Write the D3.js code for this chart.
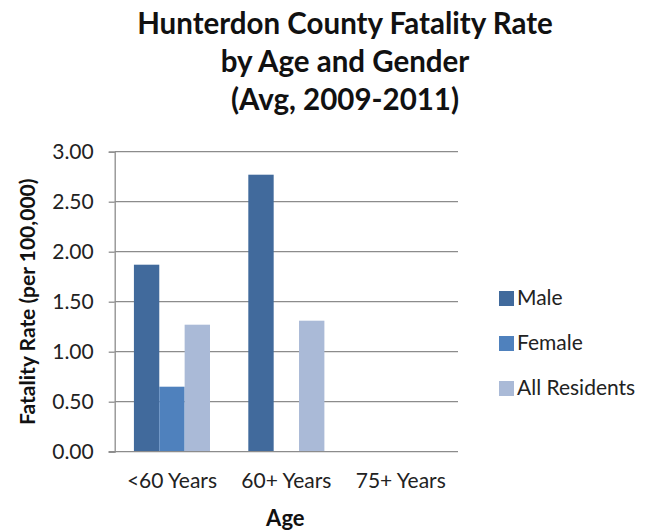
<!DOCTYPE html>
<html>
<head>
<meta charset="utf-8">
<script src="https://cdn.jsdelivr.net/npm/d3@7"></script>
<style>
  body { margin: 0; background: #fff; }
  text { font-family: Lato, "Open Sans", sans-serif; }
</style>
</head>
<body>
<div id="figure"></div>
<script>
const categories = ["<60 Years", "60+ Years", "75+ Years"];
const seriesNames = ["Male", "Female", "All Residents"];
const male = [1.87, 2.77, null];
const female = [0.65, null, null];
const allResidents = [1.27, 1.31, null];
const yTicks = [0, 0.5, 1, 1.5, 2, 2.5, 3];
const titleLines = ["Hunterdon County Fatality Rate", "by Age and Gender", "(Avg, 2009-2011)"];
const colors = ["#416a9c", "#4f81bd", "#aabad7"];

document.addEventListener("DOMContentLoaded", ()=>{
  const W = 651, H = 531;
  const margin = { top: 151.7, left: 114.7, right: 193, bottom: 79.3 };
  const width = W - margin.left - margin.right,
        height = H - margin.top - margin.bottom;

  const svg = d3.select("#figure").append("svg")
                .attr("width", W)
                .attr("height", H);

  // title
  svg.append("g").selectAll("text")
     .data(titleLines).join("text")
     .attr("x", 345)
     .attr("y", (d, i) => 34 + i * 38)
     .attr("text-anchor", "middle")
     .attr("font-weight", "bold")
     .attr("font-size", 29.5)
     .attr("fill", "#111")
     .text(d => d);

  const g = svg.append("g")
               .attr("transform", "translate(" + margin.left + "," + margin.top + ")");

  const x0 = d3.scaleBand().domain(categories).range([0, width]).paddingInner(0.335).paddingOuter(0.168);
  const x1 = d3.scaleBand().domain(seriesNames).range([0, x0.bandwidth()]);
  const y = d3.scaleLinear().domain([0, 3]).range([height, 0]);

  // gridlines
  g.append("g").selectAll("line")
   .data(yTicks.filter(d => d > 0)).join("line")
   .attr("x1", 0).attr("x2", width)
   .attr("y1", d => y(d)).attr("y2", d => y(d))
   .attr("stroke", "#8c8c8c").attr("stroke-width", 1.3);

  const rows = categories.map((c, i) => ({ cat: c, vals: [male[i], female[i], allResidents[i]] }));
  g.append("g").selectAll("g")
   .data(rows).join("g")
   .attr("transform", d => "translate(" + x0(d.cat) + ",0)")
   .selectAll("rect")
   .data(d => d.vals.map((v, j) => ({ name: seriesNames[j], v: v, j: j })).filter(d => d.v != null))
   .join("rect")
   .attr("x", d => x1(d.name))
   .attr("width", x1.bandwidth())
   .attr("y", d => y(d.v))
   .attr("height", d => height - y(d.v))
   .attr("fill", d => colors[d.j]);

  // y axis
  const yAxis = g.append("g")
     .call(d3.axisLeft(y).tickValues(yTicks).tickFormat(d3.format(".2f")).tickSize(6).tickPadding(15));
  yAxis.select(".domain").attr("stroke", "#8c8c8c").attr("stroke-width", 1.3);
  yAxis.selectAll(".tick line").attr("stroke", "#8c8c8c").attr("stroke-width", 1.3);
  yAxis.selectAll(".tick text").attr("font-size", 21).attr("fill", "#222")
       .style("font-family", "Lato, sans-serif");

  // x axis
  const xAxis = g.append("g")
     .attr("transform", "translate(0," + height + ")")
     .call(d3.axisBottom(x0).tickSize(0).tickPadding(21));
  xAxis.select(".domain").attr("stroke", "#8c8c8c").attr("stroke-width", 1.3)
       .attr("d", "M-6,0H" + width);
  xAxis.selectAll(".tick text").attr("font-size", 21).attr("fill", "#222")
       .style("font-family", "Lato, sans-serif");

  // axis titles
  svg.append("text")
     .attr("transform", "translate(35," + (margin.top + height / 2) + ") rotate(-90)")
     .attr("text-anchor", "middle")
     .attr("font-weight", "bold")
     .attr("font-size", 21)
     .attr("fill", "#111")
     .text("Fatality Rate (per 100,000)");

  svg.append("text")
     .attr("x", margin.left + width / 2 - 1)
     .attr("y", 526)
     .attr("text-anchor", "middle")
     .attr("font-weight", "bold")
     .attr("font-size", 22)
     .attr("fill", "#111")
     .text("Age");

  // legend
  const legend = svg.append("g").attr("transform", "translate(499,291)");
  const items = legend.selectAll("g").data(seriesNames).join("g")
     .attr("transform", (d, i) => "translate(0," + i * 45 + ")");
  items.append("rect").attr("width", 15).attr("height", 15)
       .attr("fill", (d, i) => colors[i]);
  items.append("text").attr("x", 18).attr("y", 14)
       .attr("font-size", 21).attr("fill", "#222").text(d => d);
});
</script>
</body>
</html>
